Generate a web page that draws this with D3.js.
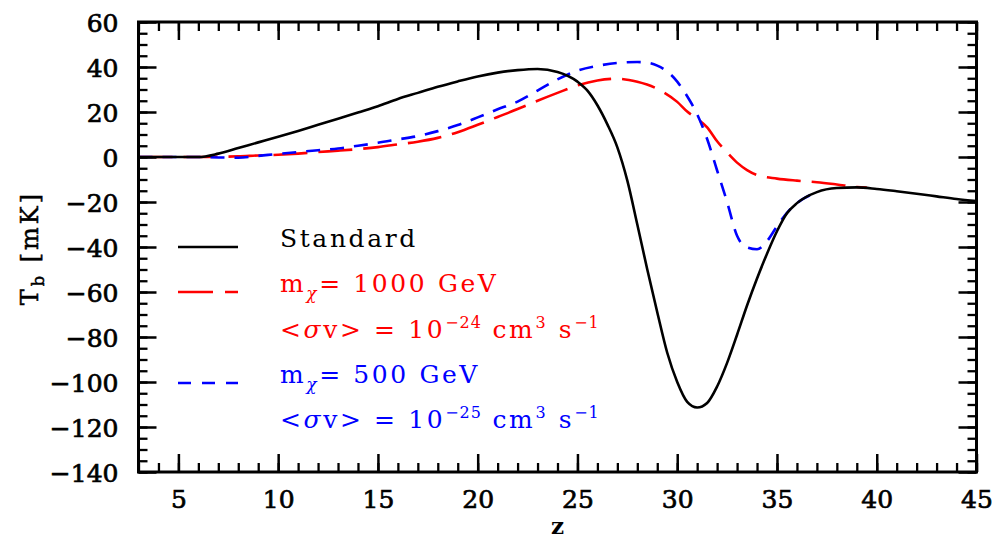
<!DOCTYPE html>
<html>
<head>
<meta charset="utf-8">
<script src="https://cdn.jsdelivr.net/npm/d3@7/dist/d3.min.js"></script>
<style>
  html, body { margin: 0; padding: 0; background: #fff; }
  svg { display: block; }
  text { font-family: "DejaVu Serif", serif; }
</style>
</head>
<body>
<svg id="chart" width="995" height="541"></svg>
<script>
// ---------- data ----------
const zStandard = [3, 5, 6, 7, 8, 9, 10, 11, 12, 13, 14, 15, 16, 17, 18, 19, 20, 21, 22, 23, 24, 25, 25.5, 26, 26.5, 27, 27.5, 28, 28.5, 29, 29.5, 30, 30.5, 31, 31.5, 32, 32.5, 33, 33.5, 34, 34.5, 35, 35.5, 36, 37, 38, 39, 40, 41, 42, 43, 44, 45];
const tbStandard = [0, 0, 0, 1.5, 4, 6.5, 9, 11.6, 14.3, 17, 19.8, 22.6, 25.8, 28.5, 31.2, 33.6, 35.8, 37.5, 38.6, 39.1, 37.8, 33.5, 29.5, 23, 14.5, 4.3, -10.5, -30, -50, -69, -87, -100, -108.8, -111.3, -109.3, -102, -91.5, -79, -66, -54, -43, -33, -25, -20.5, -15.6, -13.8, -13.5, -14.2, -15.2, -16.3, -17.5, -18.7, -19.6];

const z1000 = [3, 6, 7, 8, 9, 10, 11, 12, 13, 14, 15, 16, 17, 18, 19, 20, 21, 22, 23, 24, 25, 26, 27, 28, 29, 30, 30.5, 31, 31.5, 32, 32.5, 33, 33.5, 34, 35, 36, 37, 38, 39, 39.5];
const tb1000 = [0, 0, 0.1, 0.3, 0.7, 1.0, 1.5, 2.2, 2.8, 3.5, 4.4, 5.6, 6.8, 8.5, 11, 14.3, 17.8, 21.3, 25, 28.5, 31.8, 34, 34.8, 33.4, 30.3, 24.5, 20.2, 17, 13.2, 7, 2, -2.5, -5.8, -8, -9.6, -10.5, -11.2, -12.2, -13.3, -13.6];

const z500 = [3, 6, 7, 8, 9, 10, 11, 12, 13, 14, 15, 16, 17, 18, 19, 20, 21, 22, 23, 24, 25, 26, 27, 28, 28.5, 29, 29.5, 30, 30.5, 31, 31.5, 32, 32.5, 33, 33.5, 34, 34.5, 35, 35.5, 36, 37];
const tb500 = [0, 0, -0.2, -0.3, 0.5, 1.4, 2.2, 3, 3.8, 5, 6.3, 7.8, 9.3, 11.5, 14.2, 17.6, 21.2, 24.6, 29.5, 34.5, 38.4, 40.5, 41.8, 42.2, 41.9, 40.6, 38, 33.5, 27, 19, 8, -6, -20, -35, -40.2, -41, -37.4, -30.8, -24.8, -20.5, -15.7];

const xMajorTicks = [5, 10, 15, 20, 25, 30, 35, 40, 45];
const xMinorTicks = d3.range(3, 46, 1);
const yMajorTicks = [-140, -120, -100, -80, -60, -40, -20, 0, 20, 40, 60];
const yMinorTicks = d3.range(-140, 61, 5);

const xLabel = "z";
const legendLabels = ["Standard", "1000", "−24", "500", "−25"];

// ---------- layout ----------
const svg = d3.select("#chart");
const L = 138.5, R = 976.5, T = 22, B = 472;
const x = d3.scaleLinear().domain([3, 45]).range([L, R]);
const y = d3.scaleLinear().domain([-140, 60]).range([B, T]);

svg.append("defs").append("clipPath").attr("id", "clip")
  .append("rect").attr("x", L).attr("y", T).attr("width", R - L).attr("height", B - T);

const line = d3.line().x(d => x(d[0])).y(d => y(d[1])).curve(d3.curveMonotoneX);
const zip = (a, b) => a.map((v, i) => [v, b[i]]);

const curves = svg.append("g").attr("clip-path", "url(#clip)");
curves.append("path").datum(zip(z1000, tb1000)).attr("d", line)
  .attr("fill", "none").attr("stroke", "#ff0000").attr("stroke-width", 2.6)
  .attr("stroke-dasharray", "34,11");
curves.append("path").datum(zip(z500, tb500)).attr("d", line)
  .attr("fill", "none").attr("stroke", "#0000ff").attr("stroke-width", 2.6)
  .attr("stroke-dasharray", "14,10");
curves.append("path").datum(zip(zStandard, tbStandard)).attr("d", line)
  .attr("fill", "none").attr("stroke", "#000").attr("stroke-width", 2.6);

// ---------- axes ----------
const fontSize = 25;
function styleAxis(g, w) {
  g.select(".domain").remove();
  g.selectAll(".tick line").attr("stroke", "#000").attr("stroke-width", w);
}
// minor ticks
svg.append("g").attr("transform", `translate(0,${B})`)
  .call(d3.axisBottom(x).tickValues(xMinorTicks).tickSize(-9).tickFormat(() => ""))
  .call(g => styleAxis(g, 2.3));
svg.append("g").attr("transform", `translate(0,${T})`)
  .call(d3.axisTop(x).tickValues(xMinorTicks).tickSize(-9).tickFormat(() => ""))
  .call(g => styleAxis(g, 2.3));
svg.append("g").attr("transform", `translate(${L},0)`)
  .call(d3.axisLeft(y).tickValues(yMinorTicks).tickSize(-9).tickFormat(() => ""))
  .call(g => styleAxis(g, 2.3));
svg.append("g").attr("transform", `translate(${R},0)`)
  .call(d3.axisRight(y).tickValues(yMinorTicks).tickSize(-9).tickFormat(() => ""))
  .call(g => styleAxis(g, 2.3));
// major ticks
const fmt = d => (d < 0 ? "\u2212" + Math.abs(d) : String(d));
svg.append("g").attr("transform", `translate(0,${B})`)
  .call(d3.axisBottom(x).tickValues(xMajorTicks).tickSize(-18).tickPadding(18).tickFormat(fmt))
  .call(g => styleAxis(g, 2.5))
  .call(g => g.selectAll(".tick text").attr("font-size", fontSize).attr("font-family", "DejaVu Serif")
    .attr("fill", "#000").attr("stroke", "#000").attr("stroke-width", 0.7));
svg.append("g").attr("transform", `translate(0,${T})`)
  .call(d3.axisTop(x).tickValues(xMajorTicks).tickSize(-18).tickFormat(() => ""))
  .call(g => styleAxis(g, 2.5));
svg.append("g").attr("transform", `translate(${L},0)`)
  .call(d3.axisLeft(y).tickValues(yMajorTicks).tickSize(-18).tickPadding(20).tickFormat(fmt))
  .call(g => styleAxis(g, 2.5))
  .call(g => g.selectAll(".tick text").attr("font-size", fontSize).attr("font-family", "DejaVu Serif")
    .attr("dy", "0.36em").attr("fill", "#000").attr("stroke", "#000").attr("stroke-width", 0.7));
svg.append("g").attr("transform", `translate(${R},0)`)
  .call(d3.axisRight(y).tickValues(yMajorTicks).tickSize(-18).tickFormat(() => ""))
  .call(g => styleAxis(g, 2.5));

// frame
svg.append("rect").attr("x", L).attr("y", T).attr("width", R - L).attr("height", B - T)
  .attr("fill", "none").attr("stroke", "#000").attr("stroke-width", 3);

// axis titles
svg.append("text").attr("x", (L + R) / 2).attr("y", 534).attr("text-anchor", "middle")
  .attr("font-size", 23).attr("font-weight", "bold").text(xLabel);

const yt = svg.append("text").attr("transform", "translate(38,248) rotate(-90)")
  .attr("text-anchor", "middle").attr("font-size", 24).attr("letter-spacing", 3)
  .attr("stroke", "#000").attr("stroke-width", 0.5);
yt.append("tspan").text("T");
yt.append("tspan").attr("font-size", 16).attr("dy", 6).text("b");
yt.append("tspan").attr("dy", -6).text(" [mK]");

// ---------- legend ----------
const lg = svg.append("g");
const lx0 = 178, lx1 = 238, tx = 280, lfs = 25;
lg.append("line").attr("x1", lx0).attr("x2", lx1).attr("y1", 247).attr("y2", 247)
  .attr("stroke", "#000").attr("stroke-width", 2.6);
lg.append("line").attr("x1", lx0).attr("x2", lx1).attr("y1", 292).attr("y2", 292)
  .attr("stroke", "#ff0000").attr("stroke-width", 2.6).attr("stroke-dasharray", "35,12");
lg.append("line").attr("x1", lx0).attr("x2", lx1).attr("y1", 383).attr("y2", 383)
  .attr("stroke", "#0000ff").attr("stroke-width", 2.6).attr("stroke-dasharray", "13,11");

function legendText(yb, color) {
  return lg.append("text").attr("x", tx).attr("y", yb).attr("fill", color)
    .attr("font-size", lfs).attr("letter-spacing", 2.6);
}
legendText(247, "#000").text(legendLabels[0]);

function massLine(yb, color, mass) {
  const t = legendText(yb, color);
  t.append("tspan").text("m");
  t.append("tspan").attr("font-size", 17).attr("font-style", "italic").attr("dy", 7).text("χ");
  t.append("tspan").attr("dy", -7).text("= " + mass + " GeV");
}
function sigmaLine(yb, color, exp) {
  const t = legendText(yb, color);
  t.append("tspan").text("<");
  t.append("tspan").attr("font-style", "italic").text("σ");
  t.append("tspan").text("v> = 10");
  t.append("tspan").attr("font-size", 16).attr("letter-spacing", 1).attr("dy", -10).text(exp);
  t.append("tspan").attr("dy", 10).text(" cm");
  t.append("tspan").attr("font-size", 16).attr("dy", -10).text("3");
  t.append("tspan").attr("dy", 10).text(" s");
  t.append("tspan").attr("font-size", 16).attr("letter-spacing", 1).attr("dy", -10).text("−1");
}
massLine(292, "#ff0000", legendLabels[1]);
sigmaLine(338, "#ff0000", legendLabels[2]);
massLine(383, "#0000ff", legendLabels[3]);
sigmaLine(428, "#0000ff", legendLabels[4]);
</script>
</body>
</html>
